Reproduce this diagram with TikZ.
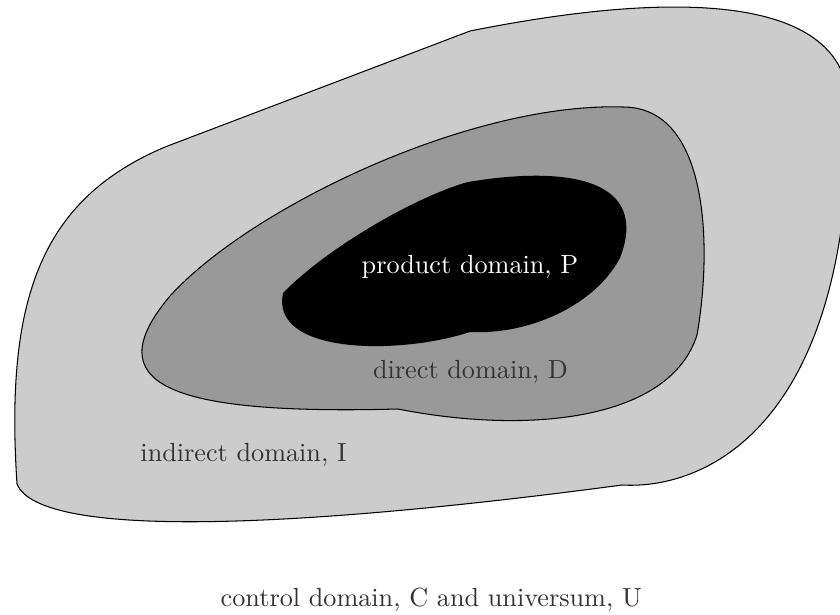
\documentclass[tikz,border=0pt]{standalone}
\definecolor{lightfill}{gray}{0.8}
\definecolor{midfill}{gray}{0.6}
\definecolor{textgray}{gray}{0.2}
\begin{document}
\begin{tikzpicture}[x=0.3817pt,y=-0.3817pt,line width=0.4pt,
  indirectdomain/.style={fill=lightfill,draw=black},
  directdomain/.style={fill=midfill,draw=black},
  productdomain/.style={fill=black},
  darklabel/.style={anchor=base,inner sep=0pt,text=textgray},
  lightlabel/.style={anchor=base,inner sep=0pt,text=white}]
\useasboundingbox (0,0) rectangle (840,614);
\clip (0,0) rectangle (840,614);
% outer (indirect) domain
\coordinate (v1) at (165,147);
\coordinate (v2) at (470,31);
\coordinate (v3) at (849,109);
\coordinate (v4) at (622,485);
\coordinate (v5) at (17,484);
\path[indirectdomain] (v1) -- (v2)
  .. controls (600,5) and (850,-30) .. (v3)
  .. controls (850,420) and (710,490) .. (v4)
  .. controls (300,528) and (40,540) .. (v5)
  .. controls (5,300) and (40,200) .. cycle;
% direct domain
\coordinate (m1) at (170,296);
\coordinate (m2) at (623,107);
\coordinate (m3) at (697,335);
\coordinate (m4) at (398,409);
\path[directdomain] (m1)
  .. controls (250,208) and (470,102) .. (m2)
  .. controls (710,107) and (712,250) .. (m3)
  .. controls (670,420) and (530,435) .. (m4)
  .. controls (170,415) and (95,385) .. cycle;
% product domain
\coordinate (b1) at (283,293);
\coordinate (b2) at (468,182);
\coordinate (b3) at (620,258);
\coordinate (b4) at (470,332);
\path[productdomain] (b1)
  .. controls (330,245) and (420,195) .. (b2)
  .. controls (570,165) and (650,180) .. (b3)
  .. controls (595,305) and (530,335) .. (b4)
  .. controls (400,355) and (270,355) .. cycle;
% labels
\node[lightlabel] (lp) at (470,273.3) {product domain, P};
\node[darklabel] (ld) at (470.5,378.3) {direct domain, D};
\node[darklabel] (li) at (243.5,461.7) {indirect domain, I};
\node[darklabel] (lc) at (431.2,606.5) {control domain, C and universum, U};
\end{tikzpicture}
\end{document}
